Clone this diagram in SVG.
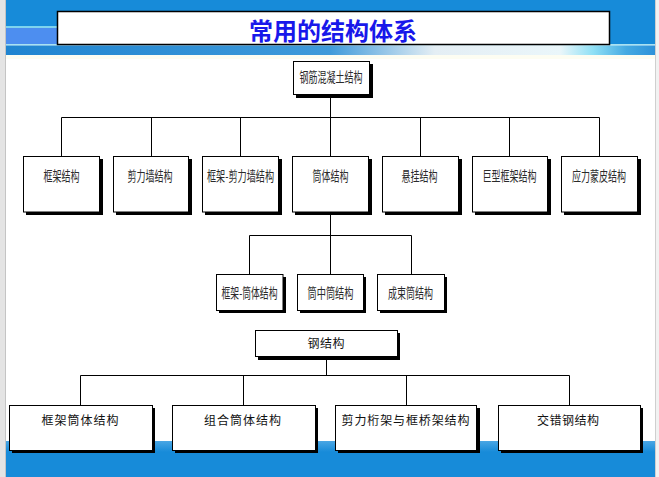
<svg xmlns="http://www.w3.org/2000/svg" width="659" height="477" viewBox="0 0 659 477">
<defs>
<linearGradient id="band" x1="0" y1="0" x2="659" y2="0" gradientUnits="userSpaceOnUse">
<stop offset="0" stop-color="#1f84d0"/>
<stop offset="0.5" stop-color="#3f9ada"/>
<stop offset="0.66" stop-color="#e4eef4"/>
<stop offset="0.85" stop-color="#eaf6fa"/>
<stop offset="0.9" stop-color="#8fe0f5"/>
<stop offset="0.95" stop-color="#45aae2"/>
<stop offset="1" stop-color="#2a8ed8"/>
</linearGradient>
<linearGradient id="bot" x1="0" y1="441" x2="0" y2="452" gradientUnits="userSpaceOnUse">
<stop offset="0" stop-color="#4aa6e4"/>
<stop offset="1" stop-color="#178bd9"/>
</linearGradient>
<style>
.box{fill:#fff;stroke:#000;stroke-width:1}
.sh{fill:#000}
.ln{stroke:#000;stroke-width:1;fill:none}
.t1{font-family:"Noto Sans CJK SC","Noto Sans",sans-serif;font-size:13.5px;font-weight:400;fill:#2a2a2a;text-anchor:middle;dominant-baseline:central}
.t2{font-family:"Noto Sans CJK SC","Noto Sans",sans-serif;font-size:12px;font-weight:400;fill:#111;text-anchor:middle;dominant-baseline:central}
.title{font-family:"Noto Sans CJK SC","Noto Sans",sans-serif;font-size:24px;font-weight:bold;fill:#1818ea;text-anchor:middle;dominant-baseline:central}
</style>
</defs>
<g id="background">
<rect x="0" y="0" width="659" height="477" fill="#fff"/>
<rect x="0" y="0" width="659" height="45" fill="#178bd9"/>
<rect x="5" y="26" width="52" height="2" fill="#7fd4ee"/>
<rect x="5" y="28" width="52" height="16" fill="#4d8ef0"/>
<rect x="0" y="44" width="659" height="1.5" fill="#a8e2f2"/>
<rect x="0" y="45.5" width="659" height="9.5" fill="url(#band)"/>
<rect x="0" y="55" width="659" height="4" fill="#fdfdf2"/>
<rect x="0" y="441" width="659" height="36" fill="url(#bot)"/>
<rect x="0" y="0" width="5" height="477" fill="#e4e4e4"/>
<rect x="5" y="0" width="1" height="477" fill="#c4c4c4"/>
<rect x="655" y="0" width="4" height="477" fill="#f2f2f2"/>
<rect x="655" y="0" width="1" height="477" fill="#cfcfcf"/>
</g>
<g id="title">
<rect x="57.5" y="11.5" width="552" height="33" fill="#fff" stroke="#000" stroke-width="1.5"/>
<text class="title" x="333" y="29">常用的结构体系</text>
</g>
<g id="connectors">
<path class="ln" d="M330.5 95 V117.5 M61.5 117.5 H599.5 M61.5 117.5 V156 M151.5 117.5 V156 M240.5 117.5 V156 M330.5 117.5 V156 M420.5 117.5 V156 M509.5 117.5 V156 M599.5 117.5 V156"/>
<path class="ln" d="M330.5 212 V274 M249.5 235.5 H411.5 M249.5 235.5 V274 M411.5 235.5 V274"/>
<path class="ln" d="M326.5 357 V375.5 M80.5 375.5 H569.5 M80.5 375.5 V405 M243.5 375.5 V405 M406.5 375.5 V405 M569.5 375.5 V405"/>
</g>
<g id="n-rc">
<rect class="sh" x="296" y="64" width="77" height="34"/>
<rect class="box" x="293.5" y="61.5" width="76" height="33"/>
<text class="t1" x="331" y="76" textLength="63" lengthAdjust="spacingAndGlyphs">钢筋混凝土结构</text>
</g>
<g id="n-frame">
<rect class="sh" x="26" y="159" width="77" height="56"/>
<rect class="box" x="23.5" y="156.5" width="76" height="55.5"/>
<text class="t1" x="61.5" y="174.5" textLength="36" lengthAdjust="spacingAndGlyphs">框架结构</text>
</g>
<g id="n-shearwall">
<rect class="sh" x="116" y="159" width="76" height="56"/>
<rect class="box" x="113.5" y="156.5" width="75" height="55.5"/>
<text class="t1" x="150" y="174.5" textLength="45" lengthAdjust="spacingAndGlyphs">剪力墙结构</text>
</g>
<g id="n-frame-shearwall">
<rect class="sh" x="205" y="159" width="77" height="56"/>
<rect class="box" x="202.5" y="156.5" width="76" height="55.5"/>
<text class="t1" x="240.5" y="174.5" textLength="67" lengthAdjust="spacingAndGlyphs">框架-剪力墙结构</text>
</g>
<g id="n-tube">
<rect class="sh" x="295" y="159" width="77" height="56"/>
<rect class="box" x="292.5" y="156.5" width="76" height="55.5"/>
<text class="t1" x="330.5" y="174.5" textLength="36" lengthAdjust="spacingAndGlyphs">筒体结构</text>
</g>
<g id="n-suspension">
<rect class="sh" x="385" y="159" width="77" height="56"/>
<rect class="box" x="382.5" y="156.5" width="76" height="55.5"/>
<text class="t1" x="419.5" y="174.5" textLength="36" lengthAdjust="spacingAndGlyphs">悬挂结构</text>
</g>
<g id="n-megaframe">
<rect class="sh" x="475" y="159" width="76" height="56"/>
<rect class="box" x="472.5" y="156.5" width="75" height="55.5"/>
<text class="t1" x="509.5" y="174.5" textLength="54" lengthAdjust="spacingAndGlyphs">巨型框架结构</text>
</g>
<g id="n-stressskin">
<rect class="sh" x="564" y="159" width="77" height="56"/>
<rect class="box" x="561.5" y="156.5" width="76" height="55.5"/>
<text class="t1" x="599" y="174.5" textLength="54" lengthAdjust="spacingAndGlyphs">应力蒙皮结构</text>
</g>
<g id="n-frame-tube">
<rect class="sh" x="219" y="277" width="67" height="36"/>
<rect class="box" x="216.5" y="274.5" width="66.5" height="36"/>
<text class="t1" x="249.5" y="292" textLength="56" lengthAdjust="spacingAndGlyphs">框架-筒体结构</text>
</g>
<g id="n-tube-in-tube">
<rect class="sh" x="300" y="277" width="66" height="36"/>
<rect class="box" x="297.5" y="274.5" width="66" height="36"/>
<text class="t1" x="330.5" y="292" textLength="46" lengthAdjust="spacingAndGlyphs">筒中筒结构</text>
</g>
<g id="n-bundled-tube">
<rect class="sh" x="380" y="277" width="67" height="36"/>
<rect class="box" x="377.5" y="274.5" width="67" height="36"/>
<text class="t1" x="410.5" y="292" textLength="45" lengthAdjust="spacingAndGlyphs">成束筒结构</text>
</g>
<g id="n-steel">
<rect class="sh" x="258" y="333" width="142" height="27"/>
<rect class="box" x="255.5" y="330.5" width="142" height="26"/>
<text class="t2" x="326" y="342" textLength="37" lengthAdjust="spacing">钢结构</text>
</g>
<g id="n-frame-tube-steel">
<rect class="sh" x="12" y="408" width="143" height="45"/>
<rect class="box" x="9.5" y="405.5" width="143" height="45"/>
<text class="t2" x="80" y="419.5" textLength="77" lengthAdjust="spacing">框架筒体结构</text>
</g>
<g id="n-combined-tube">
<rect class="sh" x="175" y="408" width="143" height="45"/>
<rect class="box" x="172.5" y="405.5" width="143" height="45"/>
<text class="t2" x="242.5" y="419.5" textLength="77" lengthAdjust="spacing">组合筒体结构</text>
</g>
<g id="n-shear-truss">
<rect class="sh" x="338" y="408" width="142" height="45"/>
<rect class="box" x="335.5" y="405.5" width="141" height="45"/>
<text class="t2" x="405.5" y="419.5" textLength="128" lengthAdjust="spacing">剪力桁架与框桥架结构</text>
</g>
<g id="n-staggered">
<rect class="sh" x="501" y="408" width="142" height="45"/>
<rect class="box" x="498.5" y="405.5" width="142" height="45"/>
<text class="t2" x="568" y="419.5" textLength="62" lengthAdjust="spacing">交错钢结构</text>
</g>
</svg>
